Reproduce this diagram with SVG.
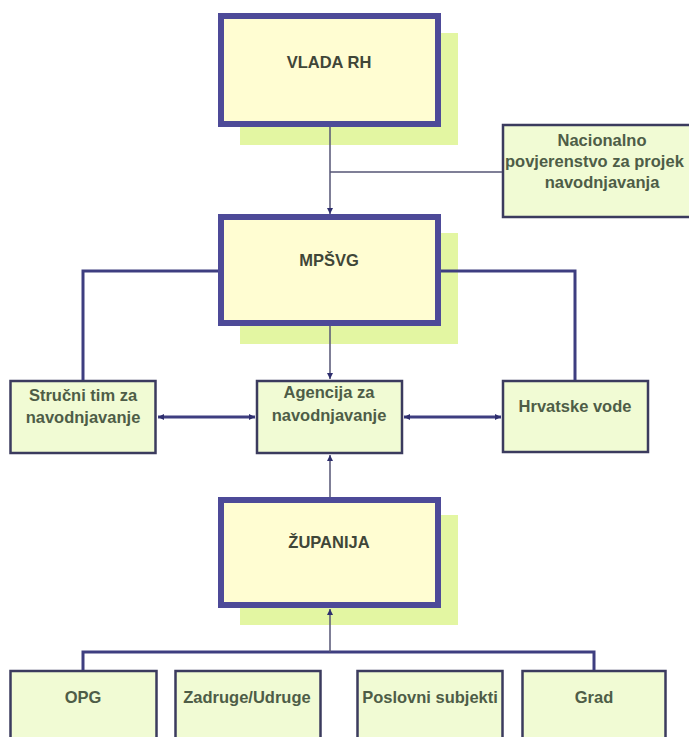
<svg xmlns="http://www.w3.org/2000/svg" width="689" height="737" viewBox="0 0 689 737">
<defs>
<marker id="ah" viewBox="0 0 10 10" refX="10" refY="5" markerWidth="6" markerHeight="6" markerUnits="userSpaceOnUse" orient="auto-start-reverse">
<path d="M0,0 L10,5 L0,10 z" fill="#2e2e6e"/>
</marker>
<style>
.big{fill:#fffdd2;stroke:#4d4a98;stroke-width:6}
.shadow{fill:#e3f6a2;stroke:none}
.small{fill:#f1fbd4;stroke:#3b3b5e;stroke-width:2.5}
.t{font-family:"Liberation Sans",Arial,sans-serif;font-size:16.5px;font-weight:bold;text-anchor:middle;fill:#4e5d47}
.tb{font-family:"Liberation Sans",Arial,sans-serif;font-size:16.5px;font-weight:bold;text-anchor:middle;fill:#3f4638}
.thick{stroke:#3e3e80;stroke-width:3;fill:none}
.thin{stroke:#555574;stroke-width:1.5;fill:none}
</style>
</defs>
<rect width="689" height="737" fill="#ffffff"/>
<g id="vlada">
<rect class="shadow" x="240" y="33" width="218" height="112"/>
<rect class="big" x="221" y="16" width="217" height="108"/>
<text class="tb" x="329" y="68">VLADA RH</text>
</g>
<g id="nacionalno">
<rect class="small" x="503" y="125" width="200" height="92"/>
<text class="t" x="602" y="146">Nacionalno</text>
<text class="t" x="505" y="167" style="text-anchor:start">povjerenstvo za projek</text>
<text class="t" x="602" y="188">navodnjavanja</text>
</g>
<g id="mpsvg">
<rect class="shadow" x="240" y="233" width="218" height="111"/>
<rect class="big" x="221" y="217" width="217" height="106"/>
<text class="tb" x="329" y="266">MPŠVG</text>
</g>
<g id="strucni">
<rect class="small" x="10.5" y="381" width="145" height="72"/>
<text class="t" x="83" y="401">Stručni tim za</text>
<text class="t" x="83" y="423">navodnjavanje</text>
</g>
<g id="agencija">
<rect class="small" x="257" y="381" width="145" height="72"/>
<text class="t" x="329" y="398">Agencija za</text>
<text class="t" x="329" y="421">navodnjavanje</text>
</g>
<g id="hrvatske">
<rect class="small" x="503" y="381" width="145" height="71"/>
<text class="t" x="575" y="412">Hrvatske vode</text>
</g>
<g id="zupanija">
<rect class="shadow" x="240" y="515" width="218" height="110"/>
<rect class="big" x="221" y="500" width="217" height="105"/>
<text class="tb" x="329" y="548">ŽUPANIJA</text>
</g>
<g id="opg">
<rect class="small" x="10.5" y="671" width="146" height="80"/>
<text class="t" x="83" y="703">OPG</text>
</g>
<g id="zadruge">
<rect class="small" x="175.5" y="671" width="145" height="80"/>
<text class="t" x="247" y="703">Zadruge/Udruge</text>
</g>
<g id="poslovni">
<rect class="small" x="357.5" y="671" width="145" height="80"/>
<text class="t" x="430" y="703">Poslovni subjekti</text>
</g>
<g id="grad">
<rect class="small" x="522.5" y="671" width="143" height="80"/>
<text class="t" x="594" y="703">Grad</text>
</g>
<g id="connectors">
<line class="thin" x1="330" y1="127" x2="330" y2="214" marker-end="url(#ah)"/>
<line class="thin" x1="330" y1="172" x2="502" y2="172"/>
<line class="thin" x1="330" y1="326" x2="330" y2="379" marker-end="url(#ah)"/>
<polyline class="thick" points="218,271 83,271 83,380"/>
<polyline class="thick" points="441,271 575,271 575,380"/>
<line class="thick" x1="158" y1="417" x2="255" y2="417" marker-start="url(#ah)" marker-end="url(#ah)"/>
<line class="thick" x1="404" y1="417" x2="501" y2="417" marker-start="url(#ah)" marker-end="url(#ah)"/>
<line class="thin" x1="330" y1="497" x2="330" y2="455" marker-end="url(#ah)"/>
<polyline class="thick" points="83,670 83,652 594,652 594,670"/>
<line class="thin" x1="330" y1="652" x2="330" y2="609" marker-end="url(#ah)"/>
</g>
</svg>
